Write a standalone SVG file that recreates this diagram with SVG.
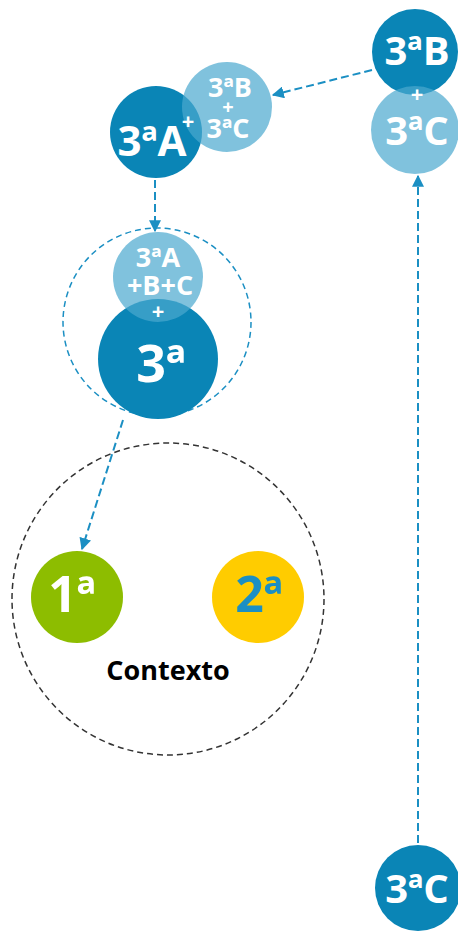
<svg xmlns="http://www.w3.org/2000/svg" width="458" height="933" viewBox="0 0 458 933">
<style>
.dark{fill:#0a85b6}
.light{fill:#4aa8ce;fill-opacity:0.7}
.t{font-family:"Open Sans","Noto Sans",sans-serif;font-weight:700;fill:#fff;text-anchor:middle}
.conn{stroke:#1b8fc3;stroke-width:2;stroke-dasharray:8 4;fill:none}
</style>
<defs>
<marker id="ah" viewBox="0 0 10 10" refX="9" refY="5" markerWidth="6" markerHeight="6" orient="auto" markerUnits="strokeWidth">
<path d="M0,0 L10,5 L0,10 z" fill="#1b8fc3"/>
</marker>
</defs>
<g id="contexto">
<circle cx="168" cy="599" r="156" fill="none" stroke="#333" stroke-width="1.5" stroke-dasharray="6 4"/>
<text class="t" x="168" y="680" style="fill:#000;font-weight:700;font-size:27px">Contexto</text>
</g>
<g id="n1">
<circle cx="77" cy="597" r="46" fill="#8dbd00"/>
<text class="t" x="72" y="612" font-size="50">1ª</text>
</g>
<g id="n2">
<circle cx="258" cy="597" r="46" fill="#ffcc00"/>
<text class="t" x="259" y="612" font-size="50" style="fill:#1b8fc3">2ª</text>
</g>
<g id="grupo3">
<circle cx="157" cy="322" r="94" fill="none" stroke="#1b8fc3" stroke-width="1.5" stroke-dasharray="6 4"/>
<circle class="dark" cx="158" cy="359" r="60"/>
<circle class="light" cx="158" cy="277" r="45"/>
<text class="t" font-size="27"><tspan x="158" y="267">3ªA</tspan><tspan x="160" y="295">+B+C</tspan><tspan x="158" y="319" font-size="22">+</tspan></text>
<text class="t" x="161" y="382" font-size="52">3ª</text>
</g>
<g id="n3A">
<circle class="dark" cx="156" cy="132" r="46"/>
<circle class="light" cx="227" cy="107" r="45"/>
<text class="t" font-size="42"><tspan x="152" y="156">3ªA</tspan><tspan x="188" y="129" font-size="22">+</tspan></text>
<text class="t" font-size="27"><tspan x="230" y="97">3ªB</tspan><tspan x="228" y="114" font-size="20">+</tspan><tspan x="228" y="138">3ªC</tspan></text>
</g>
<g id="n3BC">
<circle class="dark" cx="415" cy="52" r="43"/>
<circle class="light" cx="415" cy="130" r="44"/>
<text class="t" font-size="40"><tspan x="417" y="65">3ªB</tspan><tspan x="417" y="102" font-size="22">+</tspan><tspan x="417" y="145">3ªC</tspan></text>
</g>
<g id="n3C">
<circle class="dark" cx="418" cy="888" r="43"/>
<text class="t" x="417" y="903" font-size="40">3ªC</text>
</g>
<g id="connectors">
<line class="conn" x1="372" y1="70" x2="273" y2="95" marker-end="url(#ah)"/>
<line class="conn" x1="155" y1="180" x2="155" y2="231" marker-end="url(#ah)"/>
<line class="conn" x1="123" y1="420" x2="82" y2="549" marker-end="url(#ah)"/>
<line class="conn" x1="418" y1="843" x2="418" y2="176" marker-end="url(#ah)"/>
</g>
</svg>
